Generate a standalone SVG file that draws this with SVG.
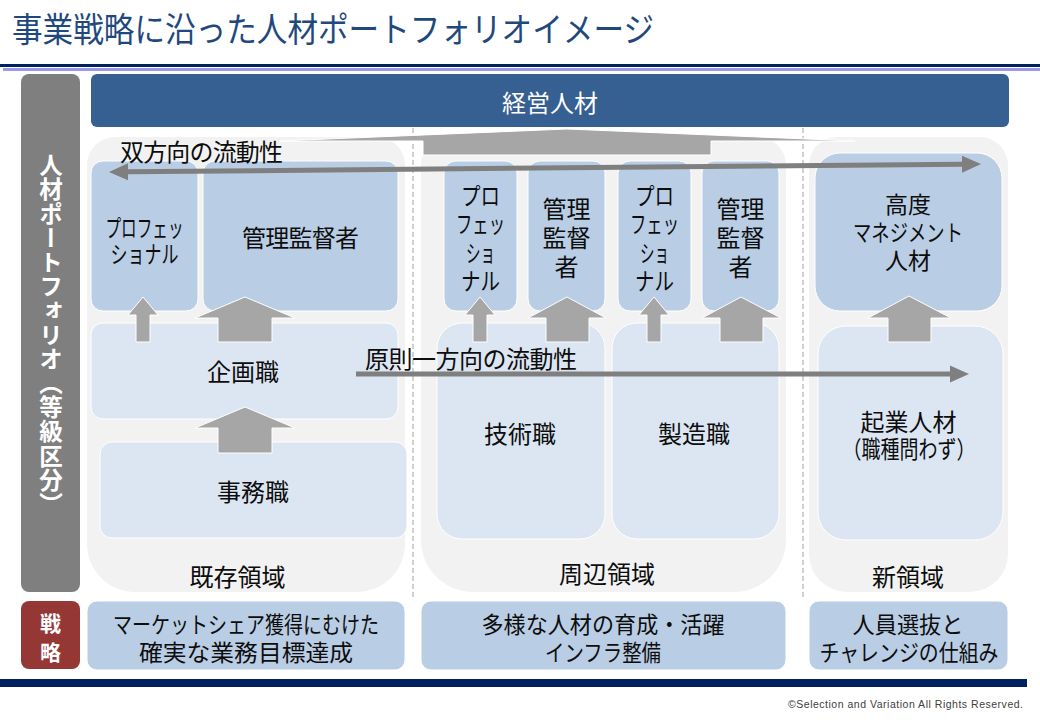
<svg xmlns="http://www.w3.org/2000/svg" width="1040" height="720" viewBox="0 0 1040 720">
<style>
.t{font-family:"Noto Sans CJK JP","Noto Sans",sans-serif;fill:#0d0d0d;dominant-baseline:central;text-anchor:middle;font-size:24px}
.s{font-size:23px}
.w{fill:#ffffff}
.b{font-weight:700}
.mid{fill:#b9cde5;stroke:#ffffff;stroke-width:1}
.lt{fill:#dce6f2;stroke:#ffffff;stroke-width:1}
.pan{fill:#f2f2f2}
.blk{fill:#a6a6a6;stroke:#ffffff;stroke-width:1}
.hl{stroke:#7f7f7f;stroke-width:5;fill:none}
.dash{stroke:#a6a6a6;stroke-width:1;stroke-dasharray:5 3;fill:none}
</style>
<defs>
<marker id="ah" markerUnits="userSpaceOnUse" markerWidth="20" markerHeight="18" viewBox="0 0 20 18" refX="1" refY="9" orient="auto-start-reverse">
<path d="M0,0.5 L19,9 L0,17.5 Z" fill="#7f7f7f"/>
</marker>
</defs>
<rect width="1040" height="720" fill="#ffffff"/>
<!-- title -->
<text x="12" y="27.5" class="t" style="text-anchor:start;font-size:34px;fill:#1f497d" textLength="642" lengthAdjust="spacingAndGlyphs">事業戦略に沿った人材ポートフォリオイメージ</text>
<rect x="0" y="64" width="1040" height="3" fill="#002060"/>
<rect x="3" y="68" width="1037" height="3" fill="#9999e6"/>
<!-- domain panels -->
<g id="panel-kizon">
<path class="pan" d="M115 137 H377 A28 28 0 0 1 405 165 V544 A48 48 0 0 1 357 592 H135 A48 48 0 0 1 87 544 V165 A28 28 0 0 1 115 137 Z"/>
<text class="t" x="237.5" y="575">既存領域</text>
</g>
<g id="panel-shuhen">
<path class="pan" d="M449 137 H758 A28 28 0 0 1 786 165 V540 A52 52 0 0 1 734 592 H473 A52 52 0 0 1 421 540 V165 A28 28 0 0 1 449 137 Z"/>
<text class="t" x="607" y="572">周辺領域</text>
</g>
<g id="panel-shin">
<path class="pan" d="M837 137 H980 A28 28 0 0 1 1008 165 V554 A38 38 0 0 1 970 592 H847 A38 38 0 0 1 809 554 V165 A28 28 0 0 1 837 137 Z"/>
<text class="t" x="908" y="575">新領域</text>
</g>
<line class="dash" x1="413" y1="128" x2="413" y2="600"/>
<line class="dash" x1="803" y1="128" x2="803" y2="600"/>
<!-- left bar -->
<g id="portfolio-bar">
<rect x="21" y="74" width="59" height="518" rx="8" fill="#7f7f7f"/>
<text class="t w b" x="51" y="335" style="writing-mode:vertical-rl;font-size:23.5px;letter-spacing:0.7px">人材ポートフォリオ（等級区分）</text>
</g>
<!-- top bar -->
<g id="keiei">
<rect x="91" y="74" width="918" height="53" rx="6" fill="#376092"/>
<text class="t w" x="550" y="101">経営人材</text>
</g>
<!-- big arrow to top -->
<g id="connectors">
<polygon class="blk" points="567,129 855,141 711,141 711,155 423,155 423,141 279,141"/>
</g>
<!-- kizon boxes -->
<g id="kizon-pro">
<rect class="mid" x="91" y="161" width="107" height="150" rx="12"/>
<text class="t"><tspan x="144.5" y="226" textLength="78" lengthAdjust="spacingAndGlyphs">プロフェッ</tspan><tspan x="144.5" y="252" textLength="68" lengthAdjust="spacingAndGlyphs">ショナル</tspan></text>
</g>
<g id="kizon-kanri">
<rect class="mid" x="203" y="161" width="195" height="150" rx="12"/>
<text class="t" x="300.5" y="236" textLength="117">管理監督者</text>
</g>
<g id="kikaku">
<rect class="lt" x="91" y="323" width="307" height="96" rx="12"/>
<text class="t" x="243" y="370">企画職</text>
</g>
<g id="jimu">
<rect class="lt" x="100" y="442" width="307" height="96" rx="12"/>
<text class="t" x="253" y="490">事務職</text>
</g>
<!-- shuhen boxes -->
<g id="shuhen-pro1">
<rect class="mid" x="444" y="161" width="73" height="150" rx="12"/>
<text class="t"><tspan x="480.5" y="194" textLength="39" lengthAdjust="spacingAndGlyphs">プロ</tspan><tspan x="480.5" y="222" textLength="49" lengthAdjust="spacingAndGlyphs">フェッ</tspan><tspan x="480.5" y="251" textLength="29" lengthAdjust="spacingAndGlyphs">ショ</tspan><tspan x="480.5" y="279" textLength="39" lengthAdjust="spacingAndGlyphs">ナル</tspan></text>
</g>
<g id="shuhen-kanri1">
<rect class="mid" x="528" y="161" width="77" height="150" rx="12"/>
<text class="t"><tspan x="566.5" y="207">管理</tspan><tspan x="566.5" y="236">監督</tspan><tspan x="566.5" y="265">者</tspan></text>
</g>
<g id="shuhen-pro2">
<rect class="mid" x="618" y="161" width="73" height="150" rx="12"/>
<text class="t"><tspan x="654.5" y="194" textLength="39" lengthAdjust="spacingAndGlyphs">プロ</tspan><tspan x="654.5" y="222" textLength="49" lengthAdjust="spacingAndGlyphs">フェッ</tspan><tspan x="654.5" y="251" textLength="29" lengthAdjust="spacingAndGlyphs">ショ</tspan><tspan x="654.5" y="279" textLength="39" lengthAdjust="spacingAndGlyphs">ナル</tspan></text>
</g>
<g id="shuhen-kanri2">
<rect class="mid" x="702" y="161" width="77" height="150" rx="12"/>
<text class="t"><tspan x="740.5" y="207">管理</tspan><tspan x="740.5" y="236">監督</tspan><tspan x="740.5" y="265">者</tspan></text>
</g>
<g id="gijutsu">
<rect class="lt" x="437" y="323" width="168" height="216" rx="25"/>
<text class="t" x="520" y="432">技術職</text>
</g>
<g id="seizo">
<rect class="lt" x="612" y="323" width="167" height="216" rx="25"/>
<text class="t" x="694" y="432">製造職</text>
</g>
<!-- shin boxes -->
<g id="kodo">
<rect class="mid" x="815" y="153" width="187" height="158" rx="25"/>
<text class="t s"><tspan x="908" y="203">高度</tspan><tspan x="908" y="231" textLength="110" lengthAdjust="spacingAndGlyphs">マネジメント</tspan><tspan x="908" y="259">人材</tspan></text>
</g>
<g id="kigyo">
<rect class="lt" x="818" y="326" width="185" height="214" rx="28"/>
<text class="t"><tspan x="908.5" y="420">起業人材</tspan><tspan x="909" y="447" textLength="133" lengthAdjust="spacingAndGlyphs">（職種問わず）</tspan></text>
</g>
<!-- block arrows -->
<g id="block-arrows">
<polygon class="blk" points="143,297 158,315 150,315 150,342 136,342 136,315 128,315"/>
<polygon class="blk" points="245,297 295,318 272,318 272,342 218,342 218,318 195,318"/>
<polygon class="blk" points="245,407 295,428 272,428 272,453 218,453 218,428 195,428"/>
<polygon class="blk" points="480,297 495,315 487,315 487,342 473,342 473,315 465,315"/>
<polygon class="blk" points="567,297 606,318 589,318 589,342 546,342 546,318 528,318"/>
<polygon class="blk" points="654,297 669,315 661,315 661,342 647,342 647,315 639,315"/>
<polygon class="blk" points="741,297 781,318 763,318 763,342 720,342 720,318 702,318"/>
<polygon class="blk" points="909,296 951,318 931,318 931,342 888,342 888,318 868,318"/>
</g>
<!-- flow arrows -->
<g id="flow-connectors">
<line class="hl" x1="127" y1="171.8" x2="963" y2="164.2" marker-start="url(#ah)" marker-end="url(#ah)"/>
<line class="hl" x1="356" y1="374" x2="951" y2="374" marker-end="url(#ah)"/>
<text class="t" x="120" y="150" style="text-anchor:start" textLength="163">双方向の流動性</text>
<text class="t" x="365" y="357" style="text-anchor:start" textLength="212">原則一方向の流動性</text>
</g>
<!-- strategy row -->
<g id="senryaku">
<rect x="21" y="601" width="59" height="68" rx="8" fill="#953735"/>
<text class="t w b" style="font-size:21px"><tspan x="50.5" y="622">戦</tspan><tspan x="50.5" y="651">略</tspan></text>
</g>
<g id="strategy-kizon">
<rect class="mid" x="87" y="601" width="318" height="69" rx="10"/>
<text class="t s"><tspan x="246" y="623" textLength="266" lengthAdjust="spacingAndGlyphs">マーケットシェア獲得にむけた</tspan><tspan x="246" y="651" textLength="214" lengthAdjust="spacingAndGlyphs">確実な業務目標達成</tspan></text>
</g>
<g id="strategy-shuhen">
<rect class="mid" x="421" y="601" width="365" height="69" rx="10"/>
<text class="t s"><tspan x="603" y="623" textLength="243" lengthAdjust="spacingAndGlyphs">多様な人材の育成・活躍</tspan><tspan x="603" y="651" textLength="116" lengthAdjust="spacingAndGlyphs">インフラ整備</tspan></text>
</g>
<g id="strategy-shin">
<rect class="mid" x="809" y="601" width="199" height="69" rx="10"/>
<text class="t s"><tspan x="908" y="623" textLength="111" lengthAdjust="spacingAndGlyphs">人員選抜と</tspan><tspan x="909" y="651" textLength="179" lengthAdjust="spacingAndGlyphs">チャレンジの仕組み</tspan></text>
</g>
<!-- footer -->
<rect x="0" y="679" width="1027" height="8" fill="#002060"/>
<text x="1023" y="708" font-family="Liberation Sans, Arial, sans-serif" font-size="10.5" fill="#404040" text-anchor="end" textLength="235">©Selection and Variation All Rights Reserved.</text>
</svg>
